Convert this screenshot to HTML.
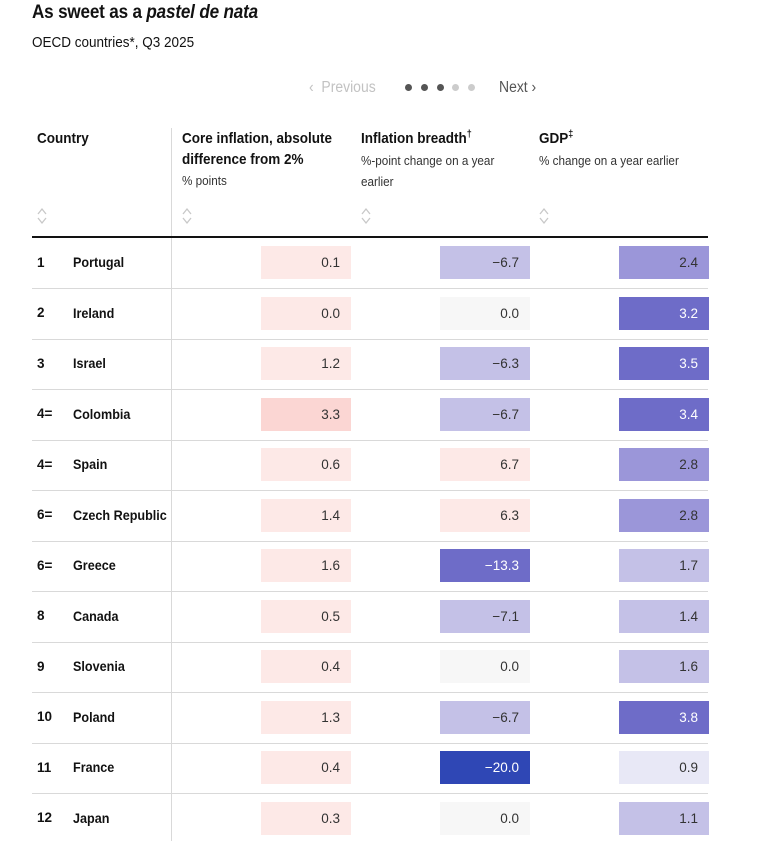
<!DOCTYPE html>
<html><head><meta charset="utf-8"><style>
body{margin:0;width:772px;height:841px;background:#fff;position:relative;overflow:hidden;font-family:"Liberation Sans",sans-serif;color:#121212}
.a{position:absolute;white-space:nowrap}
.n{transform:scaleX(0.9);transform-origin:0 0}
.t{left:32px;top:2px;font-size:19px;font-weight:bold;letter-spacing:-0.2px}
.s{left:32px;top:34px;font-size:15px}
.h{font-size:15px;font-weight:bold;top:129px;line-height:20.5px}
.sub{font-size:13px;font-weight:normal;line-height:21px;color:#333}
.sp{font-size:10px;position:relative;top:-6px;line-height:0}
.row{position:absolute;left:32px;width:676px;height:50px;border-bottom:1px solid #d9d9d9}
.rk{position:absolute;left:5px;top:16.5px;font-size:13.5px;font-weight:bold}
.cn{position:absolute;left:41px;top:16px;font-size:14px;font-weight:bold;transform:scaleX(0.9);transform-origin:0 0}
.b{position:absolute;top:8px;width:90px;height:33px;text-align:right;font-size:13.5px;line-height:33px;box-sizing:border-box;padding-right:11px;color:#333}
.c1{left:229px}.c2{left:408px}.c3{left:587px}
.w{color:#fff}
.sort{top:207px}
.dot{position:absolute;top:84px;width:7px;height:7px;border-radius:50%}
</style></head><body>
<div class="a t n">As sweet as a <i>pastel de nata</i></div>
<div class="a s n">OECD countries*, Q3 2025</div>
<div class="a n" style="left:309px;top:79px;font-size:15.5px;color:#c2c2c2">‹&nbsp; Previous</div>
<div class="dot" style="left:405px;background:#555"></div>
<div class="dot" style="left:421px;background:#555"></div>
<div class="dot" style="left:437px;background:#555"></div>
<div class="dot" style="left:452px;background:#ccc"></div>
<div class="dot" style="left:468px;background:#ccc"></div>
<div class="a n" style="left:499px;top:79px;font-size:15.5px;color:#555">Next ›</div>

<div class="a" style="left:171px;top:128px;width:1px;height:713px;background:#d9d9d9"></div>
<div class="a h n" style="left:37px">Country</div>
<div class="a h n" style="left:182px">Core inflation, absolute<br>difference from 2%<br><span class="sub">% points</span></div>
<div class="a h n" style="left:361px">Inflation breadth<span class="sp">†</span><br><span class="sub">%-point change on a year<br>earlier</span></div>
<div class="a h n" style="left:539px">GDP<span class="sp">‡</span><br><span class="sub">% change on a year earlier</span></div>
<svg class="a sort" style="left:37px" width="10" height="18"><path d="M1 7 L5 2 L9 7 M1 11 L5 16 L9 11" fill="none" stroke="#c8c8c8" stroke-width="1.3"/></svg>
<svg class="a sort" style="left:182px" width="10" height="18"><path d="M1 7 L5 2 L9 7 M1 11 L5 16 L9 11" fill="none" stroke="#c8c8c8" stroke-width="1.3"/></svg>
<svg class="a sort" style="left:361px" width="10" height="18"><path d="M1 7 L5 2 L9 7 M1 11 L5 16 L9 11" fill="none" stroke="#c8c8c8" stroke-width="1.3"/></svg>
<svg class="a sort" style="left:539px" width="10" height="18"><path d="M1 7 L5 2 L9 7 M1 11 L5 16 L9 11" fill="none" stroke="#c8c8c8" stroke-width="1.3"/></svg>
<div class="a" style="left:32px;top:236px;width:676px;height:2px;background:#121212"></div>

<div class="row" style="top:238px"><span class="rk">1</span><span class="cn">Portugal</span><div class="b c1" style="background:#fde9e7">0.1</div><div class="b c2" style="background:#c4c1e7">−6.7</div><div class="b c3" style="background:#9b96d9">2.4</div></div>
<div class="row" style="top:288.5px"><span class="rk">2</span><span class="cn">Ireland</span><div class="b c1" style="background:#fde9e7">0.0</div><div class="b c2" style="background:#f7f7f7">0.0</div><div class="b c3 w" style="background:#6e6cc8">3.2</div></div>
<div class="row" style="top:339px"><span class="rk">3</span><span class="cn">Israel</span><div class="b c1" style="background:#fde9e7">1.2</div><div class="b c2" style="background:#c4c1e7">−6.3</div><div class="b c3 w" style="background:#6e6cc8">3.5</div></div>
<div class="row" style="top:389.5px"><span class="rk">4=</span><span class="cn">Colombia</span><div class="b c1" style="background:#fbd6d3">3.3</div><div class="b c2" style="background:#c4c1e7">−6.7</div><div class="b c3 w" style="background:#6e6cc8">3.4</div></div>
<div class="row" style="top:440px"><span class="rk">4=</span><span class="cn">Spain</span><div class="b c1" style="background:#fde9e7">0.6</div><div class="b c2" style="background:#fde9e7">6.7</div><div class="b c3" style="background:#9b96d9">2.8</div></div>
<div class="row" style="top:490.5px"><span class="rk">6=</span><span class="cn">Czech Republic</span><div class="b c1" style="background:#fde9e7">1.4</div><div class="b c2" style="background:#fde9e7">6.3</div><div class="b c3" style="background:#9b96d9">2.8</div></div>
<div class="row" style="top:541px"><span class="rk">6=</span><span class="cn">Greece</span><div class="b c1" style="background:#fde9e7">1.6</div><div class="b c2 w" style="background:#6e6cc8">−13.3</div><div class="b c3" style="background:#c4c1e7">1.7</div></div>
<div class="row" style="top:591.5px"><span class="rk">8</span><span class="cn">Canada</span><div class="b c1" style="background:#fde9e7">0.5</div><div class="b c2" style="background:#c4c1e7">−7.1</div><div class="b c3" style="background:#c4c1e7">1.4</div></div>
<div class="row" style="top:642px"><span class="rk">9</span><span class="cn">Slovenia</span><div class="b c1" style="background:#fde9e7">0.4</div><div class="b c2" style="background:#f7f7f7">0.0</div><div class="b c3" style="background:#c4c1e7">1.6</div></div>
<div class="row" style="top:692.5px"><span class="rk">10</span><span class="cn">Poland</span><div class="b c1" style="background:#fde9e7">1.3</div><div class="b c2" style="background:#c4c1e7">−6.7</div><div class="b c3 w" style="background:#6e6cc8">3.8</div></div>
<div class="row" style="top:743px"><span class="rk">11</span><span class="cn">France</span><div class="b c1" style="background:#fde9e7">0.4</div><div class="b c2 w" style="background:#2f47b5">−20.0</div><div class="b c3" style="background:#e8e8f6">0.9</div></div>
<div class="row" style="top:793.5px;border-bottom:none"><span class="rk">12</span><span class="cn">Japan</span><div class="b c1" style="background:#fde9e7">0.3</div><div class="b c2" style="background:#f7f7f7">0.0</div><div class="b c3" style="background:#c4c1e7">1.1</div></div>
</body></html>
